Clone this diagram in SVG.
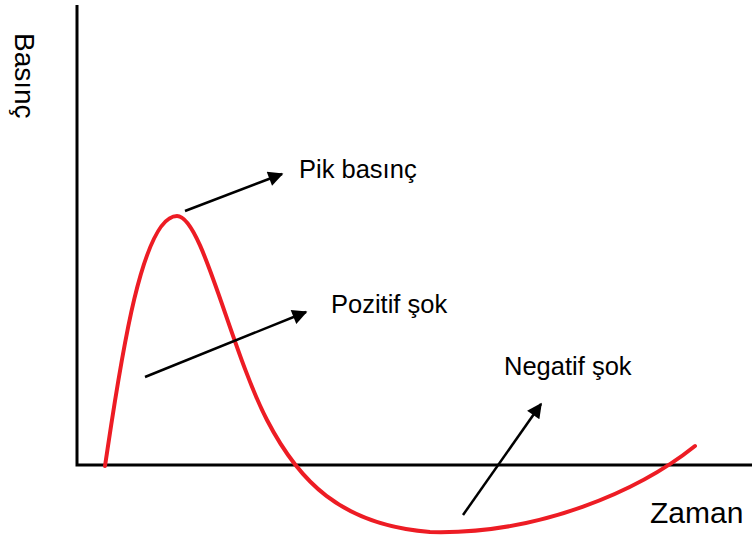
<svg xmlns="http://www.w3.org/2000/svg" width="752" height="537" viewBox="0 0 752 537">
<style>
.axis{stroke:#000;stroke-width:3;fill:none}
.curve{stroke:#ed1c24;stroke-width:4;fill:none;stroke-linecap:round}
.arr{stroke:#000;stroke-width:2.5;fill:none;marker-end:url(#ah)}
.lbl{font-family:"Liberation Sans",Arial,sans-serif;font-size:25.5px;fill:#000}
</style>
<defs>
<marker id="ah" viewBox="0 0 10 10" refX="9" refY="5" markerWidth="6.5" markerHeight="6" markerUnits="strokeWidth" orient="auto">
<path d="M0,0 L10,5 L0,10 Z" fill="#000"/>
</marker>
</defs>
<rect width="752" height="537" fill="#fff"/>
<g id="axes">
<path class="axis" d="M77,5 V465 H752"/>
<text class="lbl" style="font-size:28px" transform="translate(15,33) rotate(90)">Basınç</text>
<text class="lbl" style="font-size:30px" x="650" y="523">Zaman</text>
</g>
<g id="curve">
<path class="curve" d="M105,466 C118,380 140,216 177,216 C202,216 230,348 267,420 C298,480 340,525 430,532 C540,535 640,490 695,446"/>
</g>
<g id="connectors">
<line class="arr" x1="185" y1="211" x2="282" y2="174"/>
<line class="arr" x1="145" y1="377" x2="306" y2="312"/>
<line class="arr" x1="463" y1="515" x2="541" y2="404"/>
</g>
<g id="pik"><text class="lbl" x="299" y="178">Pik basınç</text></g>
<g id="pozitif"><text class="lbl" x="331" y="313">Pozitif şok</text></g>
<g id="negatif"><text class="lbl" x="504" y="375">Negatif şok</text></g>
</svg>
